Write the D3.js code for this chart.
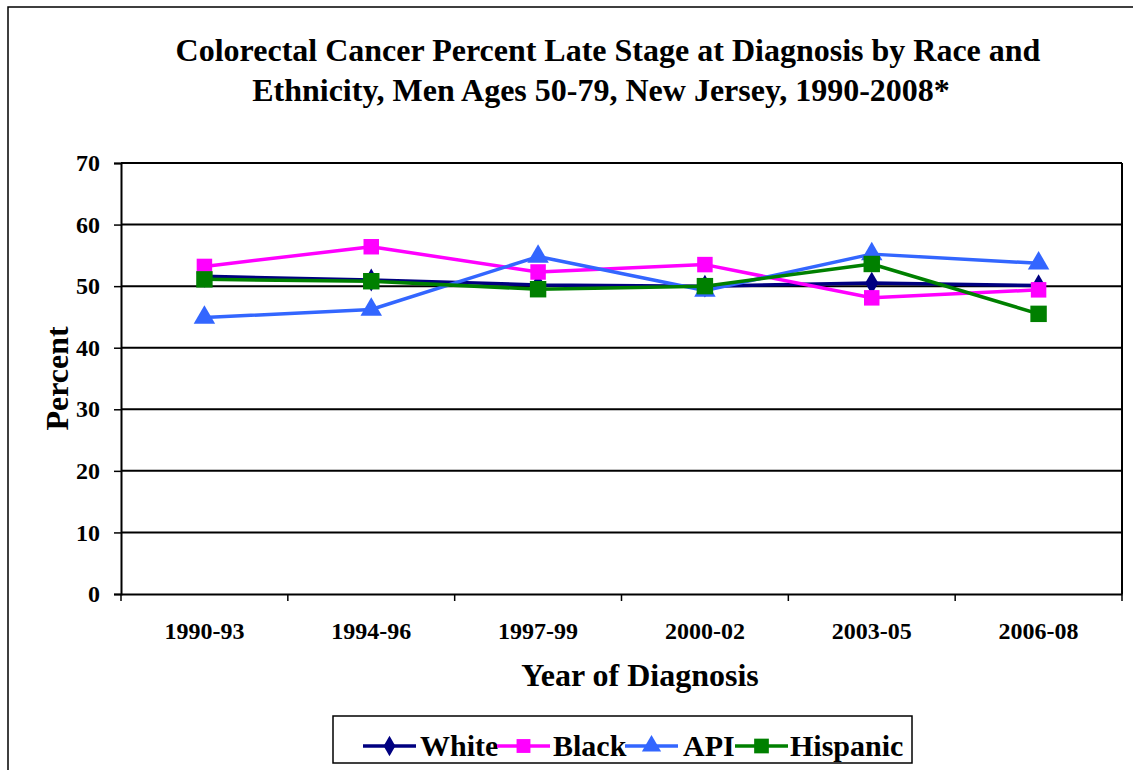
<!DOCTYPE html>
<html>
<head>
<meta charset="utf-8">
<script src="https://cdn.jsdelivr.net/npm/d3@7"></script>
<style>
  html, body { margin: 0; padding: 0; background: #fff; }
  svg { display: block; font-family: "Liberation Serif", "Times New Roman", serif; }
</style>
</head>
<body>
<svg id="chart" width="1133" height="770"></svg>
<script>
// Year groups on the category axis
const periods = ["1990-93", "1994-96", "1997-99", "2000-02", "2003-05", "2006-08"];

// Percent late stage at diagnosis, by group
const white    = [51.6, 51.0, 50.2, 50.0, 50.5, 50.1];
const black    = [53.2, 56.4, 52.3, 53.5, 48.1, 49.4];
const api      = [44.9, 46.2, 54.8, 49.3, 55.2, 53.7];
const hispanic = [51.1, 50.8, 49.5, 50.0, 53.6, 45.5];

const yTicks = [0, 10, 20, 30, 40, 50, 60, 70];
const seriesNames = ["White", "Black", "API", "Hispanic"];

const series = [
  { name: seriesNames[0], values: white,    color: "#000080", symbol: d3.symbolDiamond, size: 150 },
  { name: seriesNames[1], values: black,    color: "#FF00FF", symbol: d3.symbolSquare,  size: 240 },
  { name: seriesNames[2], values: api,      color: "#3366FF", symbol: d3.symbolTriangle, size: 200 },
  { name: seriesNames[3], values: hispanic, color: "#008000", symbol: d3.symbolSquare,  size: 270 }
];

const svg = d3.select("#chart");

// Outer chart frame (extends past the right and bottom edges)
svg.append("rect")
  .attr("x", 8).attr("y", 7)
  .attr("width", 1200).attr("height", 900)
  .attr("fill", "none").attr("stroke", "#000").attr("stroke-width", 1.5);

const plot = { left: 121, right: 1122, top: 163, bottom: 594 };

const x = d3.scaleBand().domain(periods).range([plot.left, plot.right]).padding(0);
const y = d3.scaleLinear().domain([0, 70]).range([plot.bottom, plot.top]);

// Title
const title = svg.append("text")
  .attr("text-anchor", "middle")
  .attr("font-weight", "bold")
  .attr("font-size", 32);
title.append("tspan").attr("x", 608).attr("y", 61)
  .text("Colorectal Cancer Percent Late Stage at Diagnosis by Race and");
title.append("tspan").attr("x", 601).attr("y", 101)
  .text("Ethnicity, Men Ages 50-79, New Jersey, 1990-2008*");

// Horizontal gridlines
svg.append("g")
  .selectAll("line")
  .data(yTicks.filter(t => t > 0))
  .join("line")
  .attr("x1", plot.left).attr("x2", plot.right)
  .attr("y1", d => y(d)).attr("y2", d => y(d))
  .attr("stroke", "#000").attr("stroke-width", 2);

// Right edge of plot area
svg.append("line")
  .attr("x1", plot.right).attr("x2", plot.right)
  .attr("y1", plot.top).attr("y2", plot.bottom)
  .attr("stroke", "#000").attr("stroke-width", 2);

// Y axis
const yAxis = svg.append("g")
  .attr("transform", `translate(${plot.left},0)`)
  .call(d3.axisLeft(y).tickValues(yTicks).tickSize(7).tickPadding(14).tickFormat(d3.format("d")));
yAxis.select(".domain").attr("stroke", "#000").attr("stroke-width", 2);
yAxis.selectAll(".tick line").attr("stroke", "#000").attr("stroke-width", 1.5);
yAxis.selectAll(".tick text")
  .attr("font-family", "Liberation Serif, serif")
  .attr("font-weight", "bold").attr("font-size", 24).attr("fill", "#000");

// X axis with ticks at category boundaries
const xAxis = svg.append("g")
  .attr("transform", `translate(0,${plot.bottom})`)
  .call(d3.axisBottom(x).tickSize(0).tickPadding(28));
xAxis.select(".domain").attr("stroke", "#000").attr("stroke-width", 2);
xAxis.selectAll(".tick text")
  .attr("font-family", "Liberation Serif, serif")
  .attr("font-weight", "bold").attr("font-size", 24).attr("fill", "#000");
const bounds = periods.map(p => x(p)).concat([x(periods[periods.length - 1]) + x.bandwidth()]);
svg.append("g").selectAll("line")
  .data(bounds)
  .join("line")
  .attr("x1", d => d).attr("x2", d => d)
  .attr("y1", plot.bottom).attr("y2", plot.bottom + 7)
  .attr("stroke", "#000").attr("stroke-width", 1.5);

// Axis titles
svg.append("text")
  .attr("transform", `translate(68,${(plot.top + plot.bottom) / 2}) rotate(-90)`)
  .attr("text-anchor", "middle")
  .attr("font-weight", "bold").attr("font-size", 32)
  .text("Percent");
svg.append("text")
  .attr("x", 640).attr("y", 686)
  .attr("text-anchor", "middle")
  .attr("font-weight", "bold").attr("font-size", 32)
  .text("Year of Diagnosis");

// Series lines and markers
const line = d3.line()
  .x((d, i) => x(periods[i]) + x.bandwidth() / 2)
  .y(d => y(d));

series.forEach(s => {
  const g = svg.append("g");
  g.append("path")
    .datum(s.values)
    .attr("d", line)
    .attr("fill", "none")
    .attr("stroke", s.color)
    .attr("stroke-width", 3.5)
    .attr("stroke-linejoin", "round");
  g.selectAll("path.marker")
    .data(s.values)
    .join("path")
    .attr("class", "marker")
    .attr("transform", (d, i) => `translate(${x(periods[i]) + x.bandwidth() / 2},${y(d)})`)
    .attr("d", d3.symbol().type(s.symbol).size(s.size))
    .attr("fill", s.color);
});

// Legend
const legend = svg.append("g");
legend.append("rect")
  .attr("x", 333).attr("y", 716)
  .attr("width", 579).attr("height", 47)
  .attr("fill", "#fff").attr("stroke", "#000").attr("stroke-width", 1.5);

const legendItems = [
  { lx: 363, tx: 420 },
  { lx: 497, tx: 553 },
  { lx: 625, tx: 683 },
  { lx: 735, tx: 790 }
];
series.forEach((s, i) => {
  const it = legendItems[i];
  const cy = 746;
  legend.append("line")
    .attr("x1", it.lx).attr("x2", it.lx + 53)
    .attr("y1", cy).attr("y2", cy)
    .attr("stroke", s.color).attr("stroke-width", 3.5);
  legend.append("path")
    .attr("transform", `translate(${it.lx + 26.5},${cy})`)
    .attr("d", d3.symbol().type(s.symbol).size(s.size * 0.8))
    .attr("fill", s.color);
  legend.append("text")
    .attr("x", it.tx).attr("y", cy + 10)
    .attr("font-weight", "bold").attr("font-size", 30)
    .text(s.name);
});
</script>
</body>
</html>
